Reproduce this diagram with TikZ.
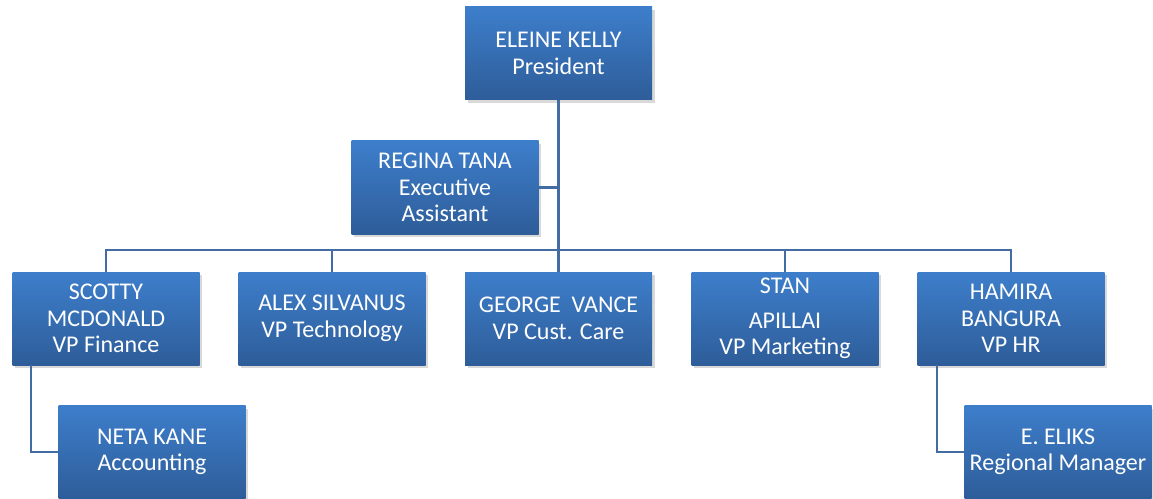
\documentclass[tikz,border=0pt]{standalone}
\usepackage{fontspec}
\setmainfont{Carlito}
\usetikzlibrary{shadows}

\definecolor{boxtop}{RGB}{61,126,203}
\definecolor{boxbot}{RGB}{46,93,153}
\definecolor{linkblue}{RGB}{66,108,162}

\tikzset{
  person/.style={rectangle, minimum width=140.25pt, minimum height=69.75pt,
    top color=boxtop, bottom color=boxbot, draw=none, text=white,
    align=center, font=\fontsize{18}{19.9}\selectfont,
    drop shadow={opacity=0.3, shadow xshift=2pt, shadow yshift=-2.5pt}},
  link/.style={draw=linkblue, line width=1.7pt}
}

\begin{document}
\begin{tikzpicture}[x=0.75pt,y=0.75pt,yscale=-1]
\useasboundingbox (0,0) rectangle (1153,499);

% Top level
\node[person] (pres) at (558.5,53.5) {ELEINE KELLY\\President};
\node[person] (regina) at (445,187.5) {REGINA TANA\\Executive\\Assistant};

% Vice presidents
\node[person] (scotty) at (106,318.5) {SCOTTY\\MCDONALD\\VP Finance};
\node[person] (alex) at (332,318.5) {ALEX SILVANUS\\VP Technology};
\node[person] (george) at (558.5,318.5) {GEORGE\ \ VANCE\\VP Cust. Care};
\node[person] (stan) at (785,318.5) {STAN\\[6pt]APILLAI\\VP Marketing};
\node[person] (hamira) at (1011,318.5) {HAMIRA\\BANGURA\\VP HR};

% Staff
\node[person] (neta) at (152,452) {NETA KANE\\Accounting};
\node[person] (eliks) at (1058,452) {E. ELIKS\\Regional Manager};

% Connectors
\coordinate (bus) at (558.5,250);
\draw[link] (pres) -- (bus);
\draw[link] (regina.east) -- (regina.east -| bus);
\foreach \n in {scotty,alex,george,stan,hamira}
  \draw[link] (\n.north) |- (bus);
\draw[link] ([xshift=14.25pt]scotty.south west) |- (neta.west);
\draw[link] ([xshift=15pt]hamira.south west) |- (eliks.west);

\end{tikzpicture}
\end{document}
